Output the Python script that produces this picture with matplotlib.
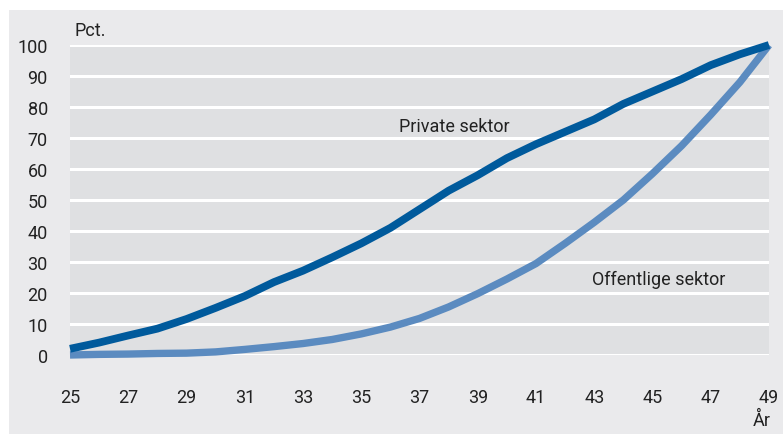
import matplotlib
matplotlib.use('Agg')
import matplotlib.pyplot as plt
from matplotlib.patches import Rectangle

# data
aar = list(range(25, 50))
privat = [2, 4, 6.3, 8.5, 11.6, 15.2, 19, 23.5, 27.2, 31.5, 36, 41,
          47, 53, 58, 63.5, 68, 72, 76, 81, 85, 89, 93.5, 97, 100]
offentlig = [0, 0.2, 0.3, 0.5, 0.6, 1, 1.8, 2.7, 3.7, 5, 6.8, 9,
             11.8, 15.5, 19.8, 24.5, 29.5, 36, 42.8, 50, 58.5, 67.5, 77.5, 88, 100]
xticks = list(range(25, 50, 2))
yticks = list(range(0, 101, 10))

plt.rcParams['font.family'] = ['Roboto', 'DejaVu Sans']

fig = plt.figure(figsize=(7.83, 4.35), dpi=100)
fig.patch.set_facecolor('white')
# graa baggrund
fig.patches.append(Rectangle((9/783, 0), 1 - 9/783, 1 - 11/435, transform=fig.transFigure,
                             facecolor='#eaeaec', edgecolor='none', zorder=-10))

ax = fig.add_axes([70/783, 1 - 356/435, (769 - 70)/783, (356 - 46)/435])
ax.set_facecolor('#dfe0e2')
for s in ax.spines.values():
    s.set_visible(False)

ax.set_xlim(25, 49)
ax.set_ylim(0, 100)
ax.set_xticks(xticks)
ax.set_yticks(yticks)
ax.tick_params(length=0, labelsize=13, colors='#222222')
ax.tick_params(axis='y', pad=16)
ax.tick_params(axis='x', pad=24)
ax.grid(axis='y', color='white', linewidth=2.2)
ax.set_axisbelow(True)

ax.plot(aar, offentlig, color='#5b8bc0', linewidth=5.3, clip_on=False, solid_capstyle='butt')
ax.plot(aar, privat, color='#005a9c', linewidth=5.6, clip_on=False, solid_capstyle='butt')

ax.text(38.18, 74, 'Private sektor', fontsize=13, color='#222222', ha='center', va='center')
ax.text(45.22, 24.5, 'Offentlige sektor', fontsize=13, color='#222222', ha='center', va='center')

fig.text(75/783, 1 - 31/435, 'Pct.', fontsize=13, color='#222222', ha='left', va='center')
fig.text(762/783, 1 - 421/435, 'År', fontsize=13, color='#222222', ha='center', va='center')

fig.savefig('out.png', dpi=100)
